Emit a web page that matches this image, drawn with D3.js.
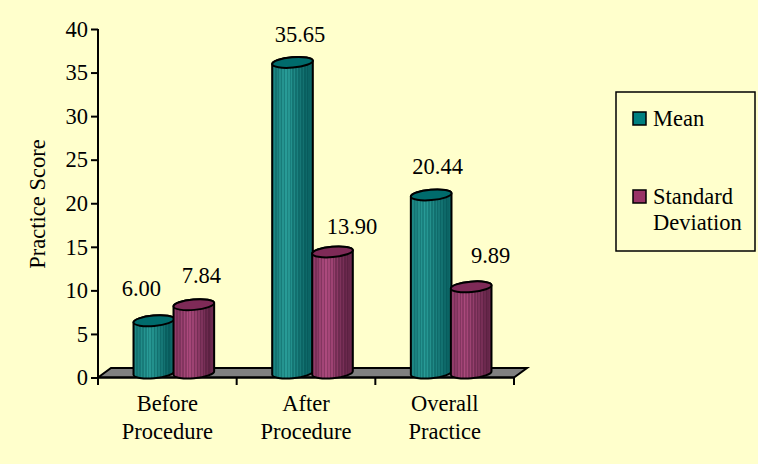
<!DOCTYPE html>
<html>
<head>
<meta charset="utf-8">
<script src="https://cdn.jsdelivr.net/npm/d3@7"></script>
<style>
  html, body { margin: 0; padding: 0; background: #FFFFCC; }
  svg { display: block; }
  text { font-family: "Liberation Serif", serif; fill: #000; }
</style>
</head>
<body>
<div id="chart"></div>
<script>
const categories = [["Before", "Procedure"], ["After", "Procedure"], ["Overall", "Practice"]];
const seriesNames = ["Mean", "Standard Deviation"];
const meanValues = [6.00, 35.65, 20.44];
const sdValues = [7.84, 13.90, 9.89];
const yTicks = [0, 5, 10, 15, 20, 25, 30, 35, 40];

// Hand-placed value label nudges (dx, dy from the cylinder's top centre)
const meanLabelNudge = [[-12, -32], [8, -27], [7, -28]];
const sdLabelNudge = [[8, -29], [20, -25], [20, -31]];

const W = 758, H = 464;
const fontSize = 22.5;
const frontY = 377.5, backY = 368, depth = 13;
const axisX = 98, axisRight = 514;
const barBaseY = 373;
const rx = 20.4, ry = 5.2, tilt = -5;

const svg = d3.select("#chart").append("svg").attr("width", W).attr("height", H);
svg.append("rect").attr("width", W).attr("height", H).attr("fill", "#FFFFCC");

const y = d3.scaleLinear().domain([0, 40]).range([frontY, 29]);
const x = d3.scaleBand().domain(d3.range(categories.length)).range([axisX, axisRight]).paddingInner(0).paddingOuter(0);
const barHeight = v => y(0) - y(v);

// Vertical ribbing across a cylinder: fine alternating ribs, darkening to the right edge
const ribs = [0.50, 0.62, 0.42, 0.58, 0.46, 0.70, 0.50, 0.78, 0.56, 0.86, 0.60, 0.80, 0.52, 0.74,
              0.44, 0.66, 0.38, 0.56, 0.32, 0.46, 0.26, 0.40, 0.20, 0.30, 0.16, 0.24, 0.30, 0.22];
const defs = svg.append("defs");
function ribbed(id, light, dark) {
  const mix = d3.interpolateRgb(dark, light);
  const g = defs.append("linearGradient").attr("id", id).attr("x1", 0).attr("x2", 1).attr("y1", 0).attr("y2", 0);
  ribs.forEach((t, i) => {
    g.append("stop").attr("offset", i / ribs.length).attr("stop-color", mix(t));
    g.append("stop").attr("offset", (i + 1) / ribs.length).attr("stop-color", mix(t));
  });
}
ribbed("ribTeal", "#2FA8A2", "#004E50");
ribbed("ribPlum", "#BC5289", "#4A1835");

// Floor
const floor = d3.path();
floor.moveTo(axisX, frontY);
floor.lineTo(axisX + depth, backY);
floor.lineTo(axisRight + depth, backY);
floor.lineTo(axisRight, frontY);
floor.closePath();
svg.append("path").attr("d", floor.toString()).attr("fill", "#808080")
  .attr("stroke", "#000").attr("stroke-width", 2).attr("stroke-linejoin", "miter");

// Value axis
const yAxis = d3.axisLeft(y).tickValues(yTicks).tickSize(7).tickPadding(3).tickFormat(d3.format("d"));
const yG = svg.append("g").attr("transform", `translate(${axisX},0)`).call(yAxis);
yG.select(".domain").attr("d", `M0,${y(40)}V${frontY}`).attr("stroke", "#000").attr("stroke-width", 2);
yG.selectAll(".tick line").attr("stroke", "#000").attr("stroke-width", 2);
yG.selectAll(".tick text").attr("font-size", fontSize).attr("font-family", "Liberation Serif");

// Category axis
const xAxisLine = svg.append("g");
xAxisLine.append("line").attr("x1", axisX).attr("x2", axisRight).attr("y1", frontY).attr("y2", frontY)
  .attr("stroke", "#000").attr("stroke-width", 2);
xAxisLine.selectAll(".cat-tick").data(d3.range(categories.length + 1)).join("line")
  .attr("x1", i => i < categories.length ? x(i) : axisRight)
  .attr("x2", i => i < categories.length ? x(i) : axisRight)
  .attr("y1", frontY).attr("y2", 385).attr("stroke", "#000").attr("stroke-width", 2);

const catText = svg.selectAll(".cat").data(categories).join("text")
  .attr("class", "cat").attr("text-anchor", "middle").attr("font-size", fontSize);
catText.each(function (lines, i) {
  d3.select(this).selectAll("tspan").data(lines).join("tspan")
    .attr("x", x(i) + x.bandwidth() / 2)
    .attr("y", (d, k) => 411 + k * 28)
    .text(d => d);
});

svg.append("text").attr("transform", "translate(45,204) rotate(-90)")
  .attr("text-anchor", "middle").attr("font-size", fontSize).text("Practice Score");

// Cylinders
const tiltRad = tilt * Math.PI / 180;
const edgeX = rx * Math.cos(tiltRad), edgeY = rx * Math.sin(tiltRad);
function side(cx, top, bottom) {
  return `M${cx - edgeX},${top - edgeY}` +
    `L${cx - edgeX},${bottom - edgeY}` +
    `A${rx},${ry} ${tilt} 0 0 ${cx + edgeX},${bottom + edgeY}` +
    `L${cx + edgeX},${top + edgeY}` +
    `A${rx},${ry} ${tilt} 0 0 ${cx - edgeX},${top - edgeY}Z`;
}
function cylinders(values, centerShift, fillId, capColor) {
  const g = svg.append("g");
  const cyl = g.selectAll("g").data(values).join("g");
  const cxOf = i => x(i) + x.bandwidth() / 2 + centerShift;
  const topOf = v => barBaseY - barHeight(v);
  cyl.append("path")
    .attr("d", (v, i) => side(cxOf(i), topOf(v), barBaseY))
    .attr("fill", `url(#${fillId})`).attr("stroke", "#000").attr("stroke-width", 2);
  cyl.append("ellipse")
    .attr("rx", rx).attr("ry", ry)
    .attr("transform", (v, i) => `translate(${cxOf(i)},${topOf(v)}) rotate(${tilt})`)
    .attr("fill", capColor).attr("stroke", "#000").attr("stroke-width", 2);
}
cylinders(meanValues, -13.5, "ribTeal", "#006B6C");
cylinders(sdValues, 26.5, "ribPlum", "#7E2A57");

// Value labels
function valueLabels(values, centerShift, nudges) {
  svg.append("g").selectAll("text").data(values).join("text")
    .attr("text-anchor", "middle").attr("font-size", fontSize)
    .attr("x", (v, i) => x(i) + x.bandwidth() / 2 + centerShift + nudges[i][0])
    .attr("y", (v, i) => barBaseY - barHeight(v) + nudges[i][1] + 7)
    .text(v => d3.format(".2f")(v));
}
valueLabels(meanValues, -14, meanLabelNudge);
valueLabels(sdValues, 26, sdLabelNudge);

// Legend
const legend = svg.append("g");
legend.append("rect").attr("x", 616).attr("y", 92).attr("width", 139).attr("height", 159)
  .attr("fill", "#FFFFCC").attr("stroke", "#000").attr("stroke-width", 1.5);
const swatchColors = d3.scaleOrdinal().domain(seriesNames).range(["#008080", "#993366"]);
const swatchY = d3.scaleOrdinal().domain(seriesNames).range([112, 190]);
legend.selectAll("rect.sw").data(seriesNames).join("rect").attr("class", "sw")
  .attr("x", 633).attr("y", d => swatchY(d)).attr("width", 13).attr("height", 13)
  .attr("fill", d => swatchColors(d)).attr("stroke", "#000").attr("stroke-width", 1.5);
legend.append("text").attr("x", 653).attr("y", 126).attr("font-size", fontSize).text("Mean");
legend.append("text").attr("x", 653).attr("y", 204).attr("font-size", fontSize).text("Standard");
legend.append("text").attr("x", 653).attr("y", 230).attr("font-size", fontSize).text("Deviation");
</script>
</body>
</html>
